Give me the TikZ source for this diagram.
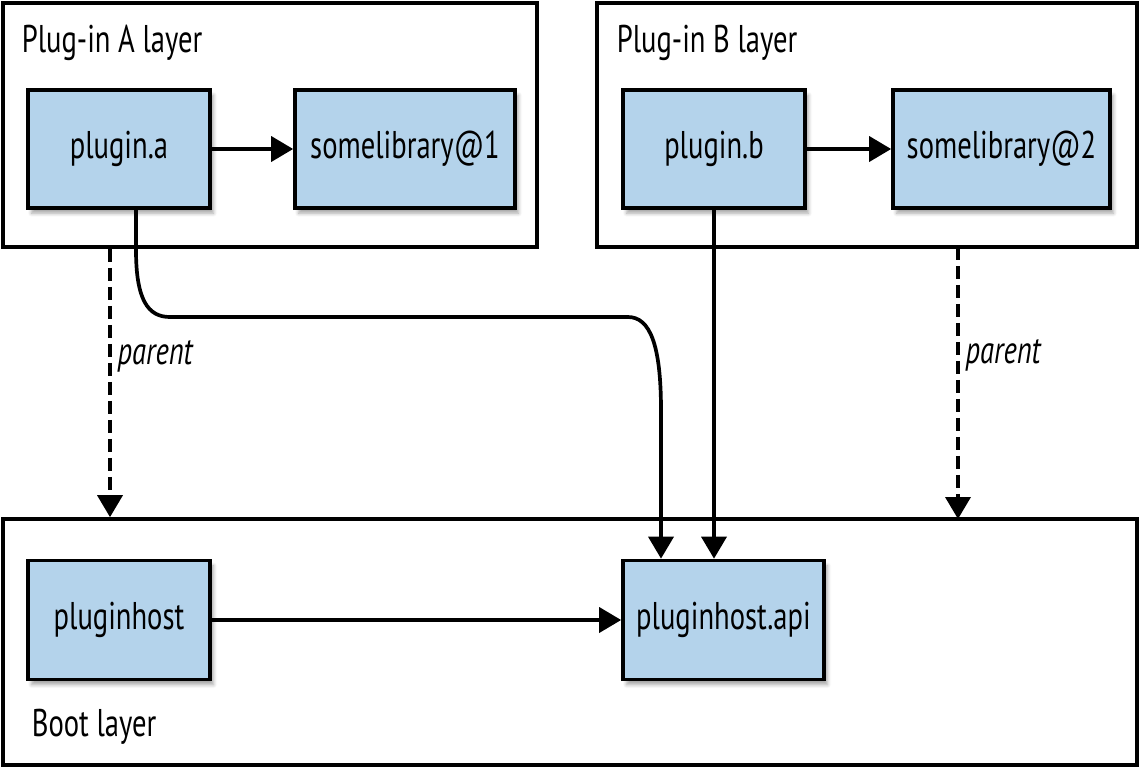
\documentclass[tikz,border=0pt]{standalone}
\usepackage{fontspec}
\setmainfont[FakeStretch=0.74]{PT Sans}
\usepackage{tikz}
\usetikzlibrary{arrows.meta,shadows.blur}
\definecolor{boxblue}{HTML}{B4D3EB}

\begin{document}
\begin{tikzpicture}[x=0.02cm,y=-0.02cm,>={Triangle[length=0.44cm,width=0.5cm]},line width=2.1pt,
    mod/.style={draw, fill=boxblue, minimum width=3.64cm, minimum height=2.36cm, inner sep=0pt,
      font=\fontsize{22}{24}\selectfont,
      blur shadow={shadow xshift=2pt, shadow yshift=-3pt, shadow blur steps=6, shadow opacity=35}},
    layer/.style={draw, minimum height=4.88cm, inner sep=0pt},
    title/.style={anchor=west, inner sep=0pt, font=\fontsize{22}{24}\selectfont},
    dep/.style={->, dash pattern=on 0.26cm off 0.12cm}]
  \useasboundingbox (0,0) rectangle (1140,768);
  \node (layerA) [layer, minimum width=10.68cm] at (270,125) {};
  \node (layerB) [layer, minimum width=10.8cm] at (867,125) {};
  \node (boot) [layer, minimum width=22.68cm, minimum height=4.92cm] at (570,642) {};
  \node (titleA) [title] at (20,43) {Plug-in A layer};
  \node (titleB) [title] at (615,43) {Plug-in B layer};
  \node (titleboot) [title] at (30,727) {Boot layer};
  \node (plugina) [mod] at (119,149) {plugin.a};
  \node (liba) [mod, minimum width=4.4cm] at (405,149) {somelibrary@1};
  \node (pluginb) [mod] at (714,149) {plugin.b};
  \node (libb) [mod, minimum width=4.34cm] at (1001.5,149) {somelibrary@2};
  \node (host) [mod, minimum height=2.38cm] at (119,620) {pluginhost};
  \node (api) [mod, minimum width=4.02cm, minimum height=2.38cm] at (723.5,620) {pluginhost.api};
  \path (plugina) edge[->] (liba)
        (pluginb) edge[->] (libb)
        (host) edge[->] (api)
        (pluginb.south) edge[->] (pluginb.south |- api.north);
  \draw[->] ([xshift=0.34cm]plugina.south) -- (136,250)
    .. controls (136,300) and (148,317) .. (170,317) -- (628,317)
    .. controls (650,317) and (661,345) .. (661,410) -- ([xshift=-1.25cm]api.north);
  \draw[dep] ([xshift=-0.18cm]plugina.south |- layerA.south) -- ([xshift=-0.18cm]plugina.south |- boot.north)
    node[pos=0.4, right, font=\fontsize{22}{24}\selectfont\itshape] {parent};
  \draw[dep] (958,247) -- (958,519)
    node[pos=0.4, right, font=\fontsize{22}{24}\selectfont\itshape] {parent};
\end{tikzpicture}
\end{document}
